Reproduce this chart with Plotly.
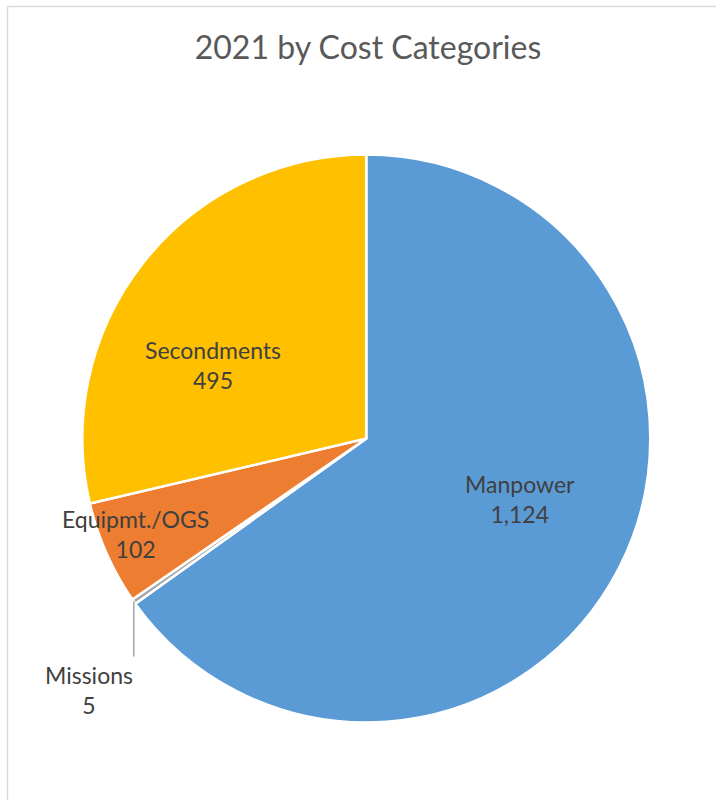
import math
import plotly.graph_objects as go

categories = ["Manpower", "Missions", "Equipmt./OGS", "Secondments"]
values = [1124, 5, 102, 495]
colors = ["#5B9BD5", "#A5A5A5", "#ED7D31", "#FFC000"]
title = "2021 by Cost Categories"

# label placement styles (radius fraction, angle offset in deg); None -> leader-line label
label_style = [(0.582, -5.9), None, (0.88, 1.3), (0.60, -12.7)]

W, H = 716, 800
cx, cy, r = 366.3, 438.5, 284
FONT = "Lato, Open Sans, sans-serif"
TXT = "#404040"

fig = go.Figure(go.Pie(
    labels=categories,
    values=values,
    sort=False,
    direction="clockwise",
    rotation=0,
    marker=dict(colors=colors, line=dict(color="white", width=2.5)),
    textinfo="none",
    domain=dict(x=[(cx - r) / W, (cx + r) / W], y=[1 - (cy + r) / H, 1 - (cy - r) / H]),
    showlegend=False,
    hoverinfo="label+value",
))

def px2paper(x, y):
    return x / W, 1 - y / H

annotations = []
shapes = [
    dict(type="line", xref="paper", yref="paper", x0=7.5 / W, x1=7.5 / W, y0=0, y1=1 - 6.5 / H,
         line=dict(color="#D9D9D9", width=1.5)),
    dict(type="line", xref="paper", yref="paper", x0=7.5 / W, x1=1, y0=1 - 6.5 / H, y1=1 - 6.5 / H,
         line=dict(color="#D9D9D9", width=1.5)),
]

total = sum(values)
cum = 0
for cat, val, style in zip(categories, values, label_style):
    mid = (cum + val / 2) / total * 360
    cum += val
    text = f"{cat}<br>{val:,}"
    if style is not None:
        frac, off = style
        th = math.radians(mid + off)
        x = cx + frac * r * math.sin(th)
        y = cy - frac * r * math.cos(th)
        px, py = px2paper(x, y)
        annotations.append(dict(x=px, y=py, xref="paper", yref="paper", text=text, showarrow=False,
                                xanchor="center", yanchor="middle", align="center",
                                font=dict(family=FONT, size=23, color=TXT)))
    else:
        th = math.radians(mid)
        ex = cx + r * math.sin(th)
        ey = cy - r * math.cos(th)
        ey2 = ey + 55
        x0, y0 = px2paper(ex, ey)
        x1, y1 = px2paper(ex, ey2)
        shapes.append(dict(type="line", xref="paper", yref="paper", x0=x0, x1=x1, y0=y0, y1=y1,
                           line=dict(color="#A6A6A6", width=1.5)))
        ax_, ay_ = px2paper(ex + 1, ey2 + 2)
        annotations.append(dict(x=ax_, y=ay_, xref="paper", yref="paper", text=text, showarrow=False,
                                xanchor="right", yanchor="top", align="center",
                                font=dict(family=FONT, size=23, color=TXT)))

fig.update_layout(
    width=W, height=H,
    margin=dict(l=0, r=0, t=0, b=0),
    paper_bgcolor="white",
    title=dict(text=title, x=368 / W, xanchor="center", y=1 - 48 / H, yanchor="middle",
               font=dict(family=FONT, size=32, color="#595959")),
    shapes=shapes,
    annotations=annotations,
)

fig.write_html("out.html", config={"displayModeBar": False},
               post_script="document.body.style.margin='0px';")
